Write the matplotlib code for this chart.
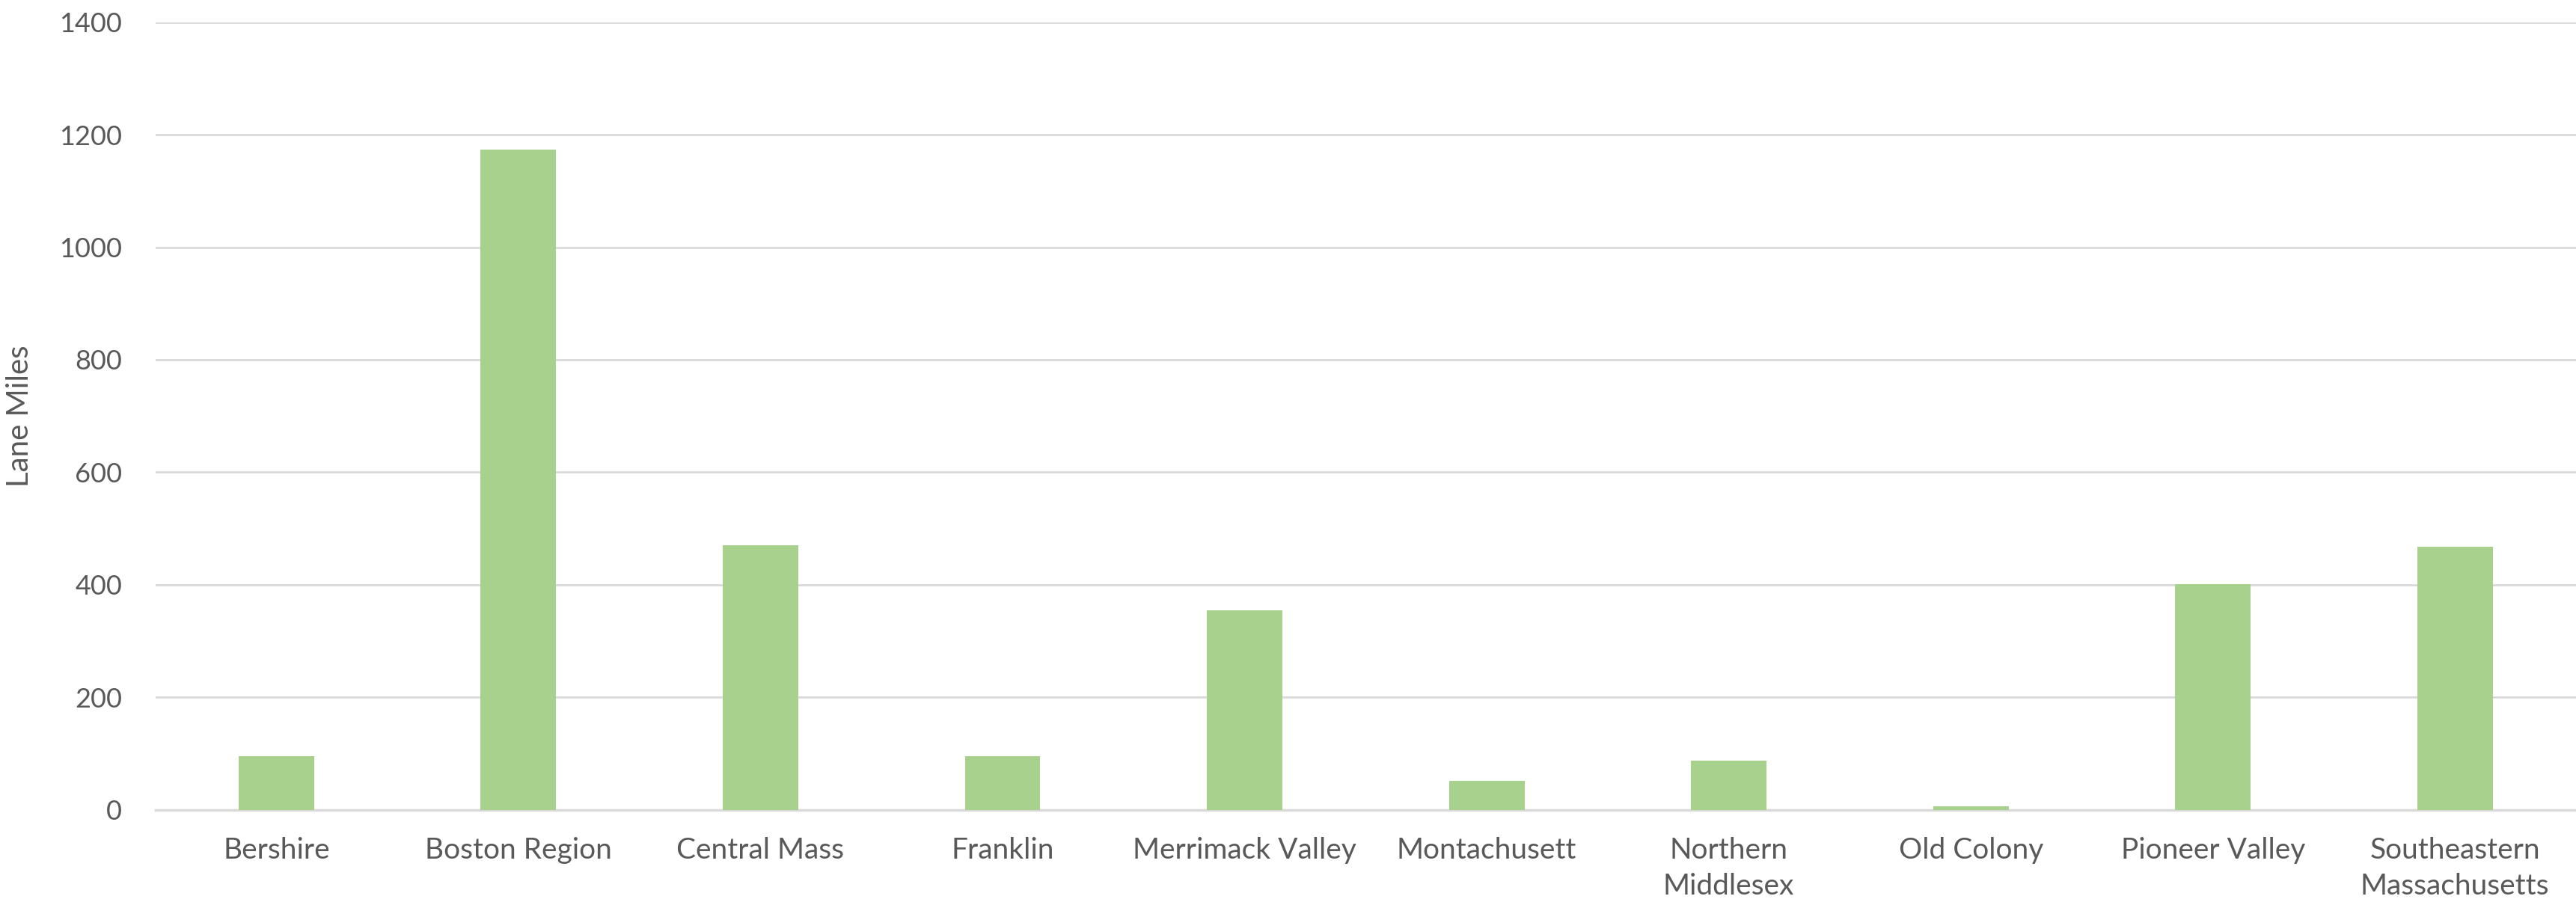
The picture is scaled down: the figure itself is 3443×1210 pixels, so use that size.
import matplotlib
matplotlib.use("Agg")
import matplotlib.pyplot as plt
import numpy as np

regions = ["Bershire", "Boston Region", "Central Mass", "Franklin",
           "Merrimack Valley", "Montachusett", "Northern\nMiddlesex",
           "Old Colony", "Pioneer Valley", "Southeastern\nMassachusetts"]
lane_miles = [96, 1173, 470, 95, 355, 52, 88, 7, 401, 468]
y_ticks = [0, 200, 400, 600, 800, 1000, 1200, 1400]

plt.rcParams['font.family'] = ['Lato', 'DejaVu Sans']
text_color = '#595959'
grid_color = '#d9d9d9'

fig = plt.figure(figsize=(34.43, 12.10), dpi=100)
ax = fig.add_axes([0.0603, 0.105, 0.9397, 0.8706])

x = np.arange(len(regions))
ax.bar(x, lane_miles, width=0.312, color='#a9d18e', zorder=3)

ax.set_xlim(-0.5, len(regions) - 0.5)
ax.set_ylim(0, 1400)
ax.set_yticks(y_ticks)
ax.set_yticklabels([str(t) for t in y_ticks])
ax.set_xticks(x)
ax.set_xticklabels(regions, linespacing=1.4)

ax.yaxis.grid(True, color=grid_color, linewidth=2, zorder=0)
ax.set_axisbelow(True)
for side in ['top', 'right', 'left']:
  ax.spines[side].set_visible(False)
ax.spines['bottom'].set_color(grid_color)
ax.spines['bottom'].set_linewidth(2.5)

ax.tick_params(axis='both', length=0, colors=text_color)
ax.tick_params(axis='x', pad=26, labelsize=28)
ax.tick_params(axis='y', pad=32, labelsize=26)

ax.set_ylabel("Lane Miles", fontsize=29, color=text_color)
ax.yaxis.set_label_coords(-0.0503, 0.5)

fig.savefig("out.png", dpi=100)
